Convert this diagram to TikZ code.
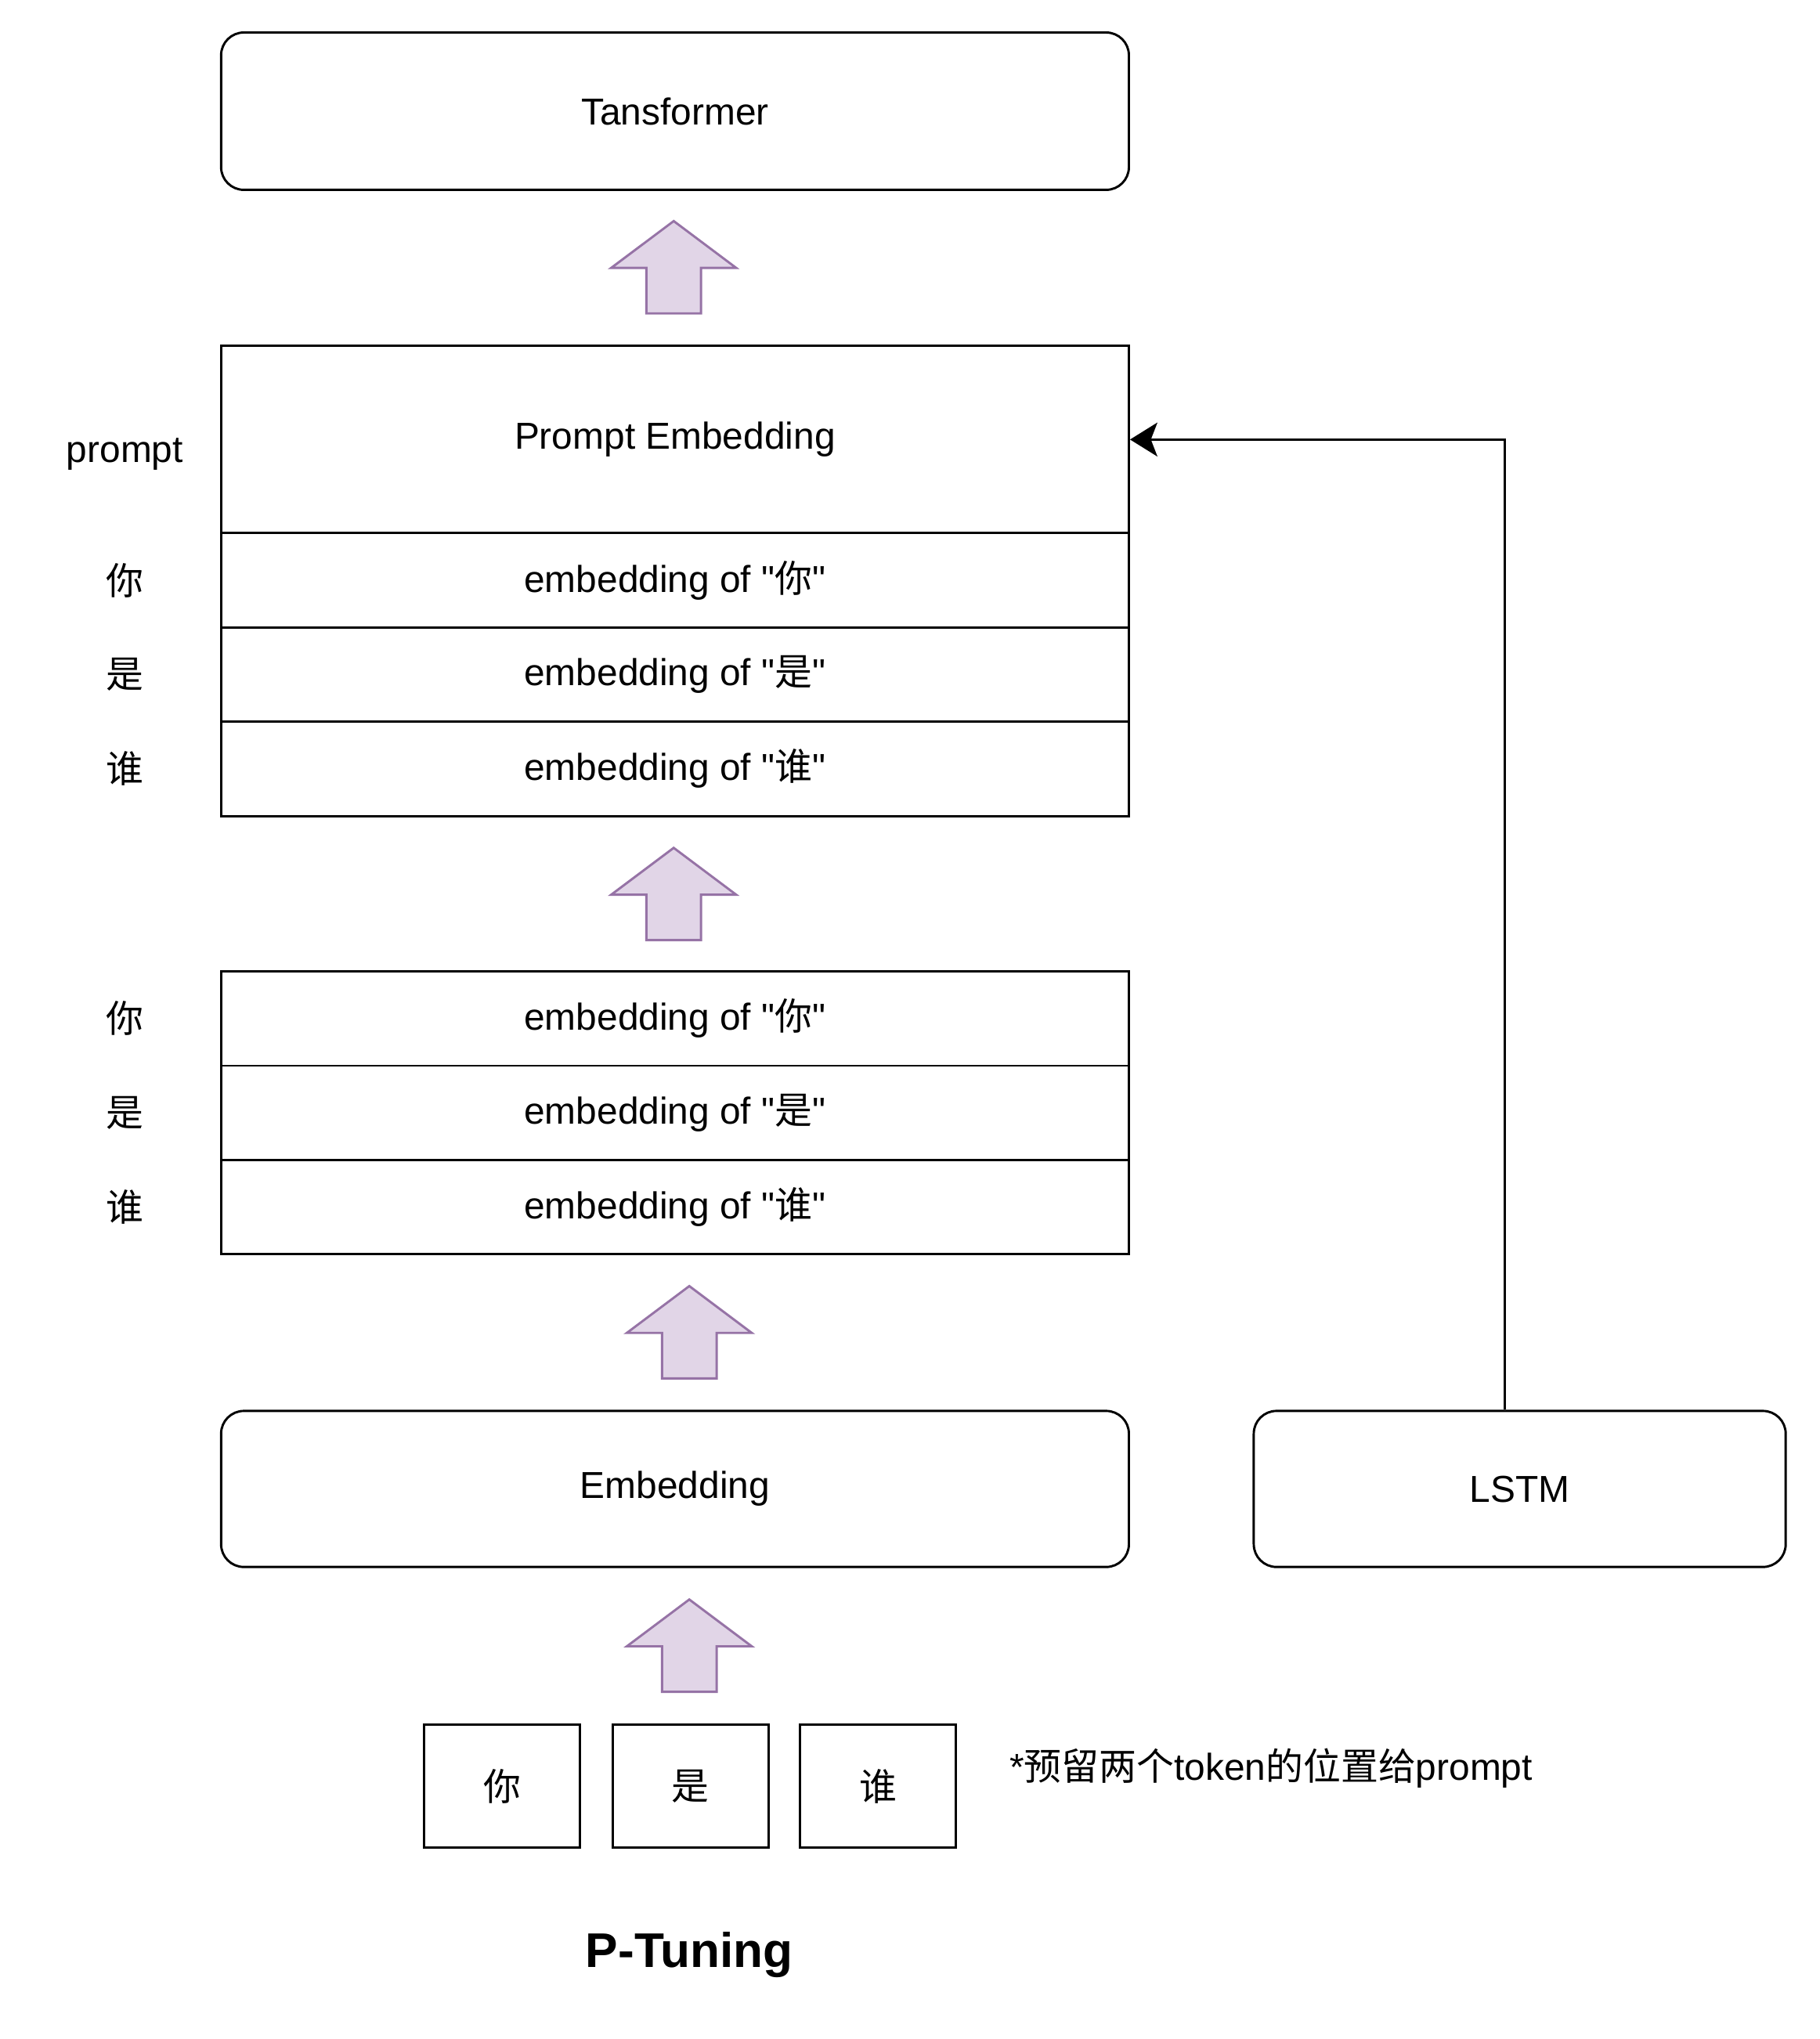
\documentclass[tikz,border=0pt]{standalone}
\usepackage{fontspec}
\setmainfont{Liberation Sans}
\newfontfamily\helv{Liberation Sans}
\newfontfamily\cjk{Noto Sans CJK SC}
\usetikzlibrary{arrows.meta}
\definecolor{arrowfill}{HTML}{E1D5E7}
\definecolor{arrowline}{HTML}{9673A6}

\begin{document}
\begin{tikzpicture}[
    font=\helv\fontsize{16.4}{20}\selectfont,
    block/.style={draw, line width=1pt, rounded corners=0.35cm, minimum width=13.96cm, minimum height=2.42cm},
    row/.style={draw, line width=1pt, minimum width=13.96cm, minimum height=1.45cm},
    tok/.style={draw, line width=1pt, minimum width=2.4cm, minimum height=1.9cm},
    link/.style={line width=1pt, -{Stealth[length=0.42cm, width=0.52cm, inset=0.1cm]}},
    fatup/.pic={\draw[line width=1pt, draw=arrowline, fill=arrowfill] (-0.42,0) -- (-0.42,0.7) -- (-0.96,0.7) -- (0,1.42) -- (0.96,0.7) -- (0.42,0.7) -- (0.42,0) -- cycle;}
  ]
      \useasboundingbox (0,0) rectangle (27.98,-31.36);
      \node[block] (tf) at (10.38,-1.71) {Tansformer};
      \pic (up1) at (10.36,-4.82) {fatup};
      % prompt + first three rows
      \node[row, minimum height=2.88cm] (pe) at (10.38,-6.76) {Prompt Embedding};
      \node[row] (pa) at (10.38,-8.925) {embedding of "{\cjk 你}"};
      \node[row] (pb) at (10.38,-10.375) {embedding of "{\cjk 是}"};
      \node[row] (pc) at (10.38,-11.825) {embedding of "{\cjk 谁}"};
      \node (lp) at (1.92,-6.98) {prompt};
      \node (la) at (1.92,-8.925) {\cjk 你};
      \node (lb) at (1.92,-10.375) {\cjk 是};
      \node (lc) at (1.92,-11.825) {\cjk 谁};
      \pic (up2) at (10.36,-14.46) {fatup};
      % plain rows
      \node[row] (ea) at (10.38,-15.665) {embedding of "{\cjk 你}"};
      \node[row] (eb) at (10.38,-17.115) {embedding of "{\cjk 是}"};
      \node[row] (ec) at (10.38,-18.565) {embedding of "{\cjk 谁}"};
      \node (ma) at (1.92,-15.665) {\cjk 你};
      \node (mb) at (1.92,-17.115) {\cjk 是};
      \node (mc) at (1.92,-18.565) {\cjk 谁};
      \pic (up3) at (10.6,-21.2) {fatup};
      \node[block, minimum height=2.4cm] (emb) at (10.38,-22.9) {Embedding};
      \node[block, minimum height=2.4cm, minimum width=8.18cm] (lstm) at (23.37,-22.9) {LSTM};
      \draw[link] ([xshift=-0.23cm]lstm.north) |- (pe.east);
      \pic (up4) at (10.6,-26.02) {fatup};
      \node[tok] (ta) at (7.72,-27.47) {\cjk 你};
      \node[tok] (tb) at (10.62,-27.47) {\cjk 是};
      \node[tok] (tc) at (13.5,-27.47) {\cjk 谁};
      \node[anchor=west, inner sep=0] (note) at (15.52,-27.2) {*{\cjk 预留两个}token{\cjk 的位置给}prompt};
      \node[font=\helv\fontsize{21.3}{25}\selectfont\bfseries] (title) at (10.6,-30.06) {P-Tuning};
    \end{tikzpicture}
\end{document}
